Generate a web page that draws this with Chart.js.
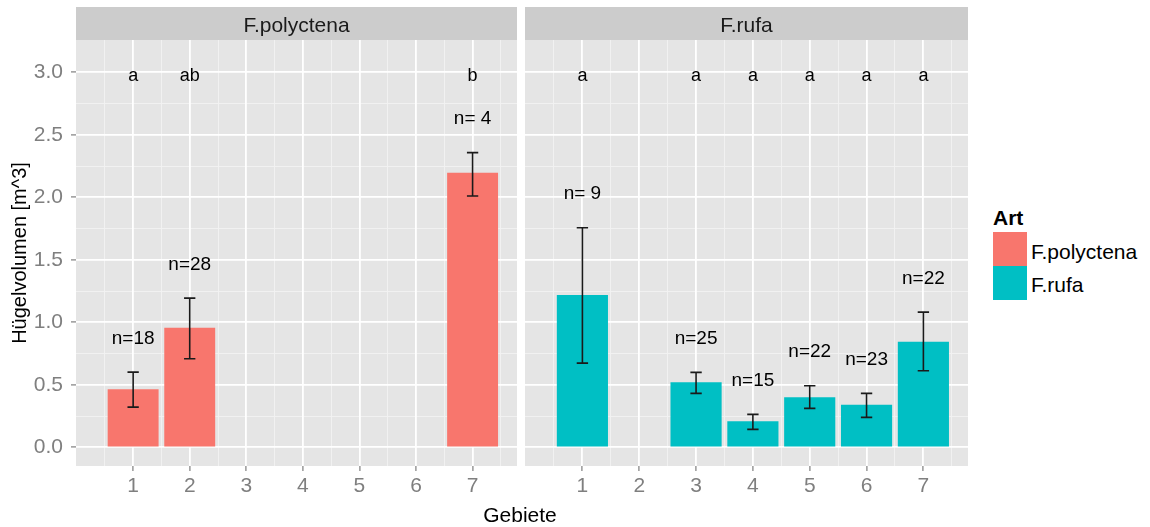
<!DOCTYPE html>
<html>
<head>
<meta charset="utf-8">
<script src="https://cdn.jsdelivr.net/npm/chart.js@4.4.0/dist/chart.umd.min.js"></script>
<style>
  html, body { margin: 0; padding: 0; background: #ffffff; width: 1150px; height: 527px; overflow: hidden;
    font-family: "Liberation Sans", Arial, sans-serif; }
  #wrapL { position: absolute; left: 0; top: 0; width: 517px; height: 527px; }
  #wrapR { position: absolute; left: 517px; top: 0; width: 451px; height: 527px; }
  .txt { position: absolute; white-space: nowrap; line-height: 1; color: #000; }
  #xtitle { left: 420px; width: 200px; text-align: center; top: 504px; font-size: 21px; }
  #legTitle { left: 993px; top: 206.5px; font-size: 21px; font-weight: bold; }
  .key { position: absolute; left: 993px; width: 34px; height: 34px; }
  .legLab { left: 1031px; font-size: 21px; }
</style>
</head>
<body>
<div id="wrapL"><canvas id="cL" width="517" height="527"></canvas></div>
<div id="wrapR"><canvas id="cR" width="451" height="527"></canvas></div>
<div class="txt" id="xtitle">Gebiete</div>
<div class="txt" id="legTitle">Art</div>
<div class="key" id="keyPoly" style="top:232px;"></div>
<div class="key" id="keyRufa" style="top:266px;"></div>
<div class="txt legLab" id="labPoly" style="top:240.5px;">F.polyctena</div>
<div class="txt legLab" id="labRufa" style="top:274px;">F.rufa</div>

<script>
// ---- data ----
const arten = ['F.polyctena', 'F.rufa'];
const artColors = ['#F8766D', '#00BFC4'];

const gebieteTicks = [1, 2, 3, 4, 5, 6, 7];
const gebieteMinor = [0.5, 1.5, 2.5, 3.5, 4.5, 5.5, 6.5, 7.5];
const volumenTicks = [0, 0.5, 1, 1.5, 2, 2.5, 3];
const volumenMinor = [0.25, 0.75, 1.25, 1.75, 2.25, 2.75];

// F.polyctena: mean mound volume with lower/upper error limits
const polyGebiet = [1, 2, 7];
const polyMean   = [0.464, 0.957, 2.197];
const polyLower  = [0.322, 0.709, 2.010];
const polyUpper  = [0.602, 1.194, 2.357];
const polyN      = ['n=18', 'n=28', 'n= 4'];
const polyLetter = ['a', 'ab', 'b'];

// F.rufa
const rufaGebiet = [1, 3, 4, 5, 6, 7];
const rufaMean   = [1.218, 0.520, 0.208, 0.400, 0.341, 0.845];
const rufaLower  = [0.674, 0.432, 0.144, 0.312, 0.240, 0.613];
const rufaUpper  = [1.757, 0.600, 0.264, 0.493, 0.432, 1.082];
const rufaN      = ['n= 9', 'n=25', 'n=15', 'n=22', 'n=23', 'n=22'];
const rufaLetter = ['a', 'a', 'a', 'a', 'a', 'a'];

const letterLevel = 3.0;   // height of the significance letters

// ---- styling ----
const FONT = '"Liberation Sans", Arial, sans-serif';
const X_MIN = -0.01, X_MAX = 7.785;
const Y_MIN = -0.149, Y_MAX = 3.258;
const PANEL_BG = '#E5E5E5';
const STRIP_BG = '#CCCCCC';

document.getElementById('keyPoly').style.background = artColors[0];
document.getElementById('keyRufa').style.background = artColors[1];

// panel background, facet strip, error bars and text annotations
const facetPlugin = {
  id: 'facet',
  beforeDraw(chart, args, o) {
    const { ctx, chartArea: a } = chart;
    ctx.save();
    ctx.fillStyle = PANEL_BG;
    ctx.fillRect(a.left, a.top, a.right - a.left, a.bottom - a.top);
    ctx.fillStyle = STRIP_BG;
    ctx.fillRect(a.left, 7, a.right - a.left, a.top - 7);
    ctx.fillStyle = '#1A1A1A';
    ctx.font = '21px ' + FONT;
    ctx.textAlign = 'center';
    ctx.textBaseline = 'alphabetic';
    ctx.fillText(o.strip, (a.left + a.right) / 2, 32);
    ctx.restore();
  },
  afterDatasetsDraw(chart, args, o) {
    const { ctx } = chart;
    const xs = chart.scales.x, ys = chart.scales.y;
    const half = (xs.getPixelForValue(0.1) - xs.getPixelForValue(0));
    ctx.save();
    ctx.strokeStyle = '#1A1A1A';
    ctx.lineWidth = 1.6;
    o.gebiet.forEach((g, i) => {
      const px = xs.getPixelForValue(g);
      const yl = ys.getPixelForValue(o.lower[i]);
      const yu = ys.getPixelForValue(o.upper[i]);
      ctx.beginPath();
      ctx.moveTo(px, yu); ctx.lineTo(px, yl);
      ctx.moveTo(px - half, yu); ctx.lineTo(px + half, yu);
      ctx.moveTo(px - half, yl); ctx.lineTo(px + half, yl);
      ctx.stroke();
    });
    ctx.fillStyle = '#000000';
    ctx.textAlign = 'center';
    ctx.textBaseline = 'alphabetic';
    o.gebiet.forEach((g, i) => {
      const px = xs.getPixelForValue(g);
      ctx.font = '19px ' + FONT;
      ctx.fillText(o.n[i], px, ys.getPixelForValue(o.upper[i]) - 28.3);
      ctx.font = '18px ' + FONT;
      ctx.fillText(o.letter[i], px, ys.getPixelForValue(letterLevel) + 8.5);
    });
    ctx.restore();
  }
};

function makePanel(canvasId, idx, gebiet, mean, lower, upper, nText, letters, showY) {
  const scales = {
    x: {
      type: 'linear', position: 'bottom', min: X_MIN, max: X_MAX, offset: false,
      afterBuildTicks: s => { s.ticks = gebieteTicks.map(v => ({ value: v })); },
      afterFit: s => { s.height = 61; },
      grid: { color: '#FFFFFF', lineWidth: 1.8, drawTicks: true, tickLength: 5,
              tickColor: '#7F7F7F', tickWidth: 1.2, offset: false, z: -1 },
      border: { display: false },
      ticks: { color: '#7F7F7F', font: { family: FONT, size: 21 }, padding: 3,
               maxRotation: 0, autoSkip: false, callback: v => String(v) }
    },
    xMinor: {
      type: 'linear', position: 'bottom', min: X_MIN, max: X_MAX, offset: false,
      afterBuildTicks: s => { s.ticks = gebieteMinor.map(v => ({ value: v })); },
      afterFit: s => { s.height = 0; },
      grid: { color: '#F2F2F2', lineWidth: 0.9, drawTicks: false, offset: false, z: -2 },
      border: { display: false },
      ticks: { display: false }
    },
    y: {
      type: 'linear', position: 'left', min: Y_MIN, max: Y_MAX,
      afterBuildTicks: s => { s.ticks = volumenTicks.map(v => ({ value: v })); },
      afterFit: s => { s.width = showY ? 76 : 0; },
      grid: { color: '#FFFFFF', lineWidth: 1.8, drawTicks: showY, tickLength: 5,
              tickColor: '#7F7F7F', tickWidth: 1.2, z: -1 },
      border: { display: false },
      ticks: { display: showY, color: '#7F7F7F', font: { family: FONT, size: 21 }, padding: 8,
               callback: v => Number(v).toFixed(1) },
      title: { display: showY, text: 'Hügelvolumen [m^3]', color: '#000000',
               font: { family: FONT, size: 20 }, padding: { top: 8, bottom: 0 } }
    },
    yMinor: {
      type: 'linear', position: 'left', min: Y_MIN, max: Y_MAX,
      afterBuildTicks: s => { s.ticks = volumenMinor.map(v => ({ value: v })); },
      afterFit: s => { s.width = 0; },
      grid: { color: '#F2F2F2', lineWidth: 0.9, drawTicks: false, z: -2 },
      border: { display: false },
      ticks: { display: false }
    }
  };
  return new Chart(document.getElementById(canvasId), {
    type: 'bar',
    data: {
      datasets: [{
        label: arten[idx],
        data: gebiet.map((g, i) => ({ x: g, y: mean[i] })),
        backgroundColor: artColors[idx],
        borderWidth: 0,
        categoryPercentage: 1.0,
        barPercentage: 0.9,
        xAxisID: 'x', yAxisID: 'y'
      }]
    },
    options: {
      responsive: false,
      devicePixelRatio: 1,
      animation: false,
      layout: { padding: { top: 40, left: showY ? 0 : 8, right: 0, bottom: 0 } },
      scales,
      plugins: {
        legend: { display: false },
        tooltip: { enabled: false },
        facet: { strip: arten[idx], gebiet, lower, upper, n: nText, letter: letters }
      }
    },
    plugins: [facetPlugin]
  });
}

makePanel('cL', 0, polyGebiet, polyMean, polyLower, polyUpper, polyN, polyLetter, true);
makePanel('cR', 1, rufaGebiet, rufaMean, rufaLower, rufaUpper, rufaN, rufaLetter, false);
</script>
</body>
</html>
